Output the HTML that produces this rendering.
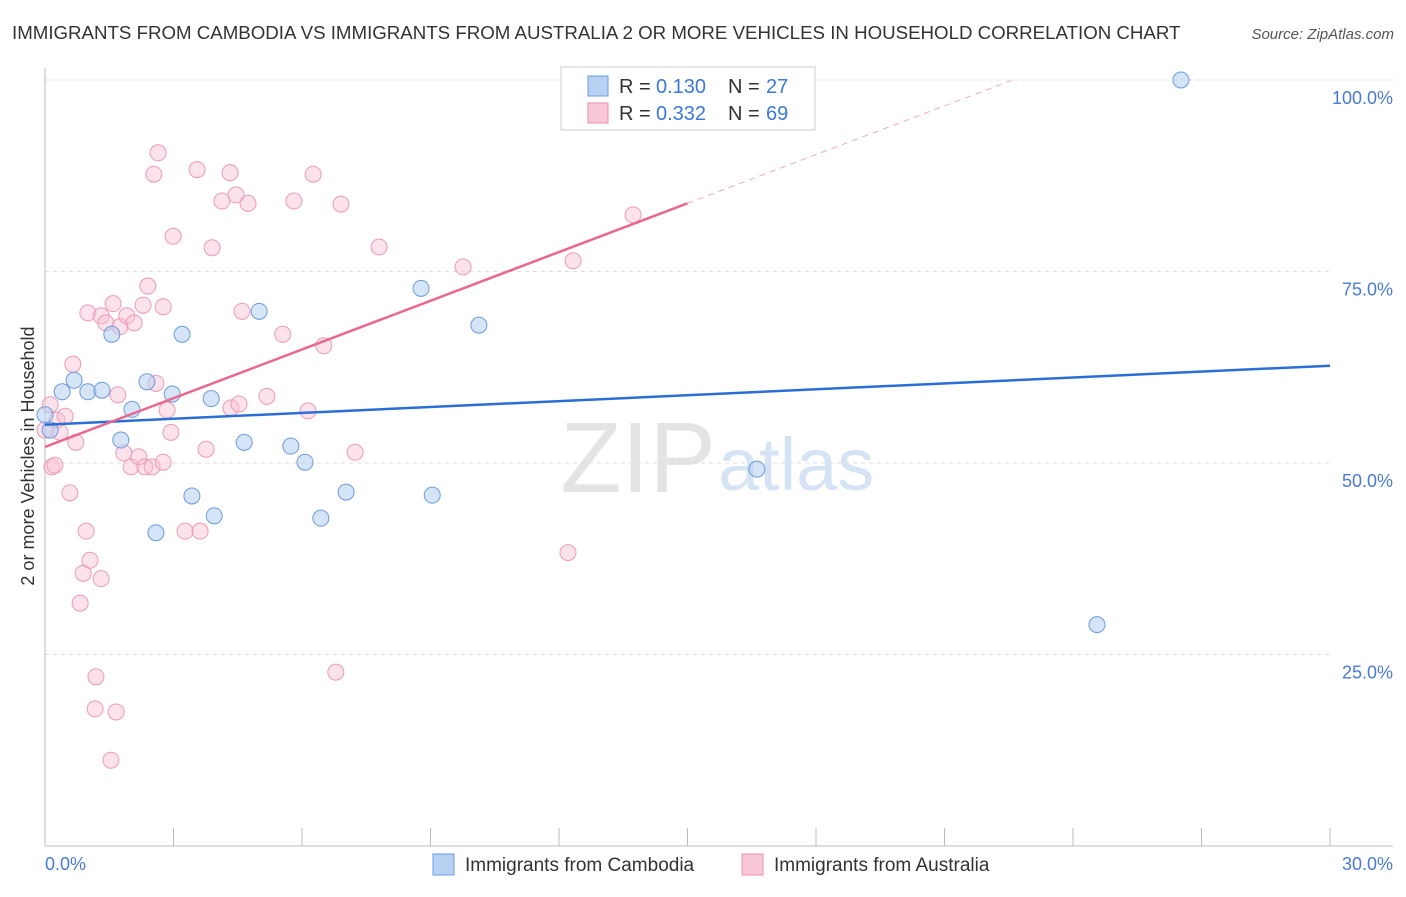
<!DOCTYPE html>
<html><head><meta charset="utf-8"><style>
body{margin:0;background:#fff;font-family:"Liberation Sans",sans-serif;}
svg text{font-family:"Liberation Sans",sans-serif;}
</style></head><body>
<svg width="1406" height="892" viewBox="0 0 1406 892">
<text x="12" y="39" font-size="18.7" fill="#333">IMMIGRANTS FROM CAMBODIA VS IMMIGRANTS FROM AUSTRALIA 2 OR MORE VEHICLES IN HOUSEHOLD CORRELATION CHART</text>
<text x="1394" y="39" font-size="15" fill="#555" text-anchor="end" font-style="italic">Source: ZipAtlas.com</text>
<text x="716" y="492" font-size="100" fill="#e4e4e4" text-anchor="end" font-family="Liberation Serif">ZIP</text>
<text x="718" y="490" font-size="74" fill="#d6e3f5">atlas</text>
<g id="grid"></g>
<g id="axes"></g>
<g id="marks"></g>
<text transform="translate(34,456) rotate(-90)" font-size="18" fill="#333" text-anchor="middle">2 or more Vehicles in Household</text>
<g>
<rect x="561" y="67" width="254" height="63" fill="#fff" stroke="#ccc"/>
<rect x="588" y="76" width="20" height="20" fill="#b8d1f3" stroke="#6a9be0"/>
<text x="619" y="93" font-size="20" fill="#333">R = </text><text x="656" y="93" font-size="20" fill="#3b78d8">0.130</text>
<text x="728" y="93" font-size="20" fill="#333">N = </text><text x="766" y="93" font-size="20" fill="#3b78d8">27</text>
<rect x="588" y="103" width="20" height="20" fill="#f9c8d7" stroke="#ea8fae"/>
<text x="619" y="120" font-size="20" fill="#333">R = </text><text x="656" y="120" font-size="20" fill="#3b78d8">0.332</text>
<text x="728" y="120" font-size="20" fill="#333">N = </text><text x="766" y="120" font-size="20" fill="#3b78d8">69</text>
</g>
<g>
<rect x="433" y="854" width="21" height="21" fill="#b8d1f3" stroke="#6a9be0"/>
<text x="465" y="871" font-size="19" fill="#333">Immigrants from Cambodia</text>
<rect x="742" y="854" width="21" height="21" fill="#f9c8d7" stroke="#ea8fae"/>
<text x="774" y="871" font-size="19" fill="#333">Immigrants from Australia</text>
</g>
</svg>
<script>
const yTicks=[25,50,75,100];
const yTickLabels=["25.0%","50.0%","75.0%","100.0%"];
const xTicks=[0,3,6,9,12,15,18,21,24,27,30];
const blueX=[0,0.12,0.40,0.68,1.00,1.33,1.56,1.77,2.03,2.38,2.59,2.97,3.20,3.43,3.88,3.95,4.65,5.00,5.74,6.07,6.44,7.03,8.78,9.04,10.13,16.62,24.56,26.52];
const blueY=[56.3,54.3,59.3,60.8,59.3,59.5,66.8,53.0,57.0,60.6,40.9,59.0,66.8,45.7,58.4,43.1,52.7,69.8,52.2,50.1,42.8,46.2,72.8,45.8,68.0,49.2,28.9,100];
const pinkX=[0,0.12,0.16,0.23,0.28,0.35,0.47,0.58,0.65,0.72,0.82,0.89,0.96,1.00,1.05,1.19,1.17,1.31,1.31,1.42,1.54,1.59,1.66,1.70,1.75,1.84,1.91,2.01,2.08,2.19,2.29,2.33,2.40,2.50,2.54,2.59,2.64,2.76,2.76,2.85,2.94,2.99,3.27,3.55,3.62,3.76,3.90,4.13,4.32,4.34,4.46,4.53,4.60,4.74,5.18,5.55,5.81,6.14,6.26,6.51,6.91,7.24,7.80,9.76,12.21,12.33,13.73,6.79];
const pinkY=[54.3,57.6,49.5,49.7,55.6,54.0,56.1,46.1,62.9,52.7,31.7,35.6,41.1,69.6,37.3,22.1,17.9,34.9,69.2,68.3,11.2,70.8,17.5,58.9,67.8,51.3,69.2,49.5,68.3,50.8,70.6,49.5,73.1,49.5,87.7,60.4,90.5,50.1,70.4,56.9,54.0,79.6,41.1,88.3,41.1,51.8,78.1,84.2,87.9,57.2,85.0,57.7,69.8,83.9,58.7,66.8,84.2,56.8,87.7,65.3,83.8,51.4,78.2,75.6,38.3,76.4,82.4,22.7];
const blueTrend=[55.0,62.7];
const pinkTrend=[52.1,2.12];
const NS='http://www.w3.org/2000/svg';
const X=v=>45+v/30*1285;
const Y=v=>846-v*7.66;
function mk(tag,attrs,parent){const e=document.createElementNS(NS,tag);for(const k in attrs)e.setAttribute(k,attrs[k]);document.getElementById(parent).appendChild(e);return e;}
yTicks.forEach((t,i)=>{
 const g=mk('line',{x1:45,x2:t===100?1393:1330,y1:Y(t),y2:Y(t),stroke:'#ddd','stroke-dasharray':'4,4'},'grid');
 
 
 const tx=mk('text',{x:1393,y:Y(t)+24,'font-size':18,fill:'#4a7bd0','text-anchor':'end'},'axes');
 tx.textContent=yTickLabels[i];
 
 
});
const ax=mk('line',{x1:45,x2:45,y1:68,y2:846,stroke:'#bbb'},'axes');


const bx=mk('line',{x1:45,x2:1393,y1:846,y2:846,stroke:'#bbb'},'axes');


xTicks.forEach(t=>{
 const l=mk('line',{x1:X(t),x2:X(t),y1:828,y2:846,stroke:'#bbb'},'axes');
 
 
});
const x0=mk('text',{x:45,y:870,'font-size':18,fill:'#4a7bd0'},'axes');x0.textContent='0.0%';


const x1=mk('text',{x:1393,y:870,'font-size':18,fill:'#4a7bd0','text-anchor':'end'},'axes');x1.textContent='30.0%';


pinkX.forEach((v,i)=>{
 const c=mk('circle',{cx:X(v),cy:Y(pinkY[i]),r:8,fill:'rgba(249,190,210,0.45)',stroke:'#ec9ab5','stroke-width':1},'marks');
 
 
});
blueX.forEach((v,i)=>{
 const c=mk('circle',{cx:X(v),cy:Y(blueY[i]),r:8,fill:'rgba(180,206,243,0.55)',stroke:'#6a9be0','stroke-width':1},'marks');
 
 
});
const bl=mk('line',{x1:X(0),y1:Y(blueTrend[0]),x2:X(30),y2:Y(blueTrend[1]),stroke:'#2a6fd6','stroke-width':2.5},'marks');


const pl=mk('line',{x1:X(0),y1:Y(pinkTrend[0]),x2:X(15),y2:Y(pinkTrend[0]+pinkTrend[1]*15),stroke:'#e8688f','stroke-width':2.5},'marks');


const xe=(100-pinkTrend[0])/pinkTrend[1];
const pd=mk('line',{x1:X(15),y1:Y(pinkTrend[0]+pinkTrend[1]*15),x2:X(xe),y2:Y(100),stroke:'#eeaabe','stroke-width':1,'stroke-dasharray':'6,5'},'marks');


</script>
</body></html>
